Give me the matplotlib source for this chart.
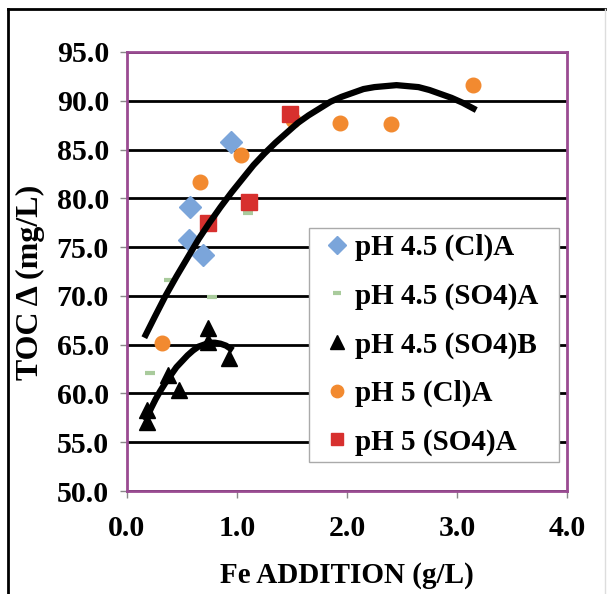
import numpy as np
import matplotlib.pyplot as plt
from matplotlib.lines import Line2D
from matplotlib.patches import Rectangle

# 读取图中的数据点
cl45_x = [0.95, 0.57, 0.56, 0.69]
cl45_y = [85.8, 79.1, 75.7, 74.2]

so45a_x = [1.10, 0.385, 0.77, 0.21]
so45a_y = [78.5, 71.6, 69.9, 62.1]

so45b_x = [0.74, 0.74, 0.93, 0.375, 0.47, 0.18, 0.18]
so45b_y = [66.7, 65.3, 63.6, 61.9, 60.4, 58.3, 57.1]

cl5_x = [0.66, 1.04, 1.51, 1.94, 2.40, 3.15, 0.315]
cl5_y = [81.7, 84.4, 88.0, 87.7, 87.6, 91.6, 65.2]

so5_x = [1.48, 1.11, 0.74]
so5_y = [88.6, 79.6, 77.5]

# 趋势线（从图上读取的点）
trend1_x = [0.17, 0.25, 0.35, 0.45, 0.55, 0.65, 0.75, 0.85, 0.95, 1.05, 1.15, 1.25, 1.35, 1.45,
            1.55, 1.65, 1.75, 1.85, 1.95, 2.05, 2.15, 2.25, 2.35, 2.45, 2.55, 2.65, 2.75,
            2.85, 2.95, 3.05, 3.15]
trend1_y = [66.0, 67.8, 70.0, 72.0, 73.9, 75.8, 77.5, 79.1, 80.6, 82.0, 83.4, 84.6, 85.7, 86.7,
            87.7, 88.5, 89.2, 89.9, 90.4, 90.8, 91.2, 91.4, 91.5, 91.6, 91.5, 91.4, 91.1,
            90.7, 90.3, 89.8, 89.2]
trend2_x = [0.18, 0.22, 0.26, 0.30, 0.35, 0.40, 0.45, 0.50, 0.55, 0.60, 0.65, 0.70, 0.75,
            0.80, 0.85, 0.90, 0.94]
trend2_y = [57.5, 58.5, 59.4, 60.2, 61.1, 61.9, 62.7, 63.3, 63.9, 64.4, 64.8, 65.0, 65.2,
            65.2, 65.1, 64.9, 64.6]

labels = ['pH 4.5 (Cl)A', 'pH 4.5 (SO4)A', 'pH 4.5 (SO4)B', 'pH 5 (Cl)A', 'pH 5 (SO4)A']

plt.rcParams['font.family'] = ['Liberation Serif', 'DejaVu Serif']
plt.rcParams['font.weight'] = 'bold'

fig = plt.figure(figsize=(6.07, 5.94), dpi=100)
ax = fig.add_axes([0.2092, 0.1734, 0.7249, 0.7391])

purple = '#9A4B92'

ax.plot(cl45_x, cl45_y, 'D', color='#7BA5DA', ms=11, mec='#7BA5DA', label=labels[0], zorder=3)
ax.plot(so45a_x, so45a_y, '_', color='#A9CB9C', ms=7, mew=3, label=labels[1], zorder=3)
ax.plot(so45b_x, so45b_y, '^', color='black', ms=12, label=labels[2], zorder=3)
ax.plot(cl5_x, cl5_y, 'o', color='#F28A30', ms=10.5, label=labels[3], zorder=3)
ax.plot(so5_x, so5_y, 's', color='#D7302E', ms=11, label=labels[4], zorder=3)

ax.plot(trend1_x, trend1_y, '-', color='black', lw=4.5, solid_joinstyle='round', zorder=4)
ax.plot(trend2_x, trend2_y, '-', color='black', lw=4.5, solid_joinstyle='round', zorder=4)

ax.set_xlim(0, 4)
ax.set_ylim(50, 95)
ax.set_xticks([0, 1, 2, 3, 4])
ax.set_yticks(np.arange(50, 96, 5))
ax.xaxis.set_major_formatter(plt.FormatStrFormatter('%.1f'))
ax.yaxis.set_major_formatter(plt.FormatStrFormatter('%.1f'))
ax.tick_params(labelsize=21.5, length=5, width=1, color='#888888')
ax.tick_params(axis='x', pad=12)
ax.tick_params(axis='y', pad=8)
for lab in ax.get_xticklabels() + ax.get_yticklabels():
    lab.set_fontweight('bold')

ax.yaxis.grid(True, color='black', lw=2)
ax.set_axisbelow(True)
for s in ax.spines.values():
    s.set_color(purple)
    s.set_linewidth(2)

ax.set_xlabel('Fe ADDITION (g/L)', fontsize=21, fontweight='bold', labelpad=15)
ax.set_ylabel('TOC Δ (mg/L)', fontsize=23, fontweight='bold', va='center')
ax.yaxis.set_label_coords(-0.22, 0.476)

# 图例框单独画，留出左右边距
box = Rectangle((0.4136, 0.066), 0.568, 0.533, transform=ax.transAxes,
                facecolor='white', edgecolor='#AAAAAA', lw=1, zorder=5)
ax.add_patch(box)
leg = ax.legend(loc='center', bbox_to_anchor=(0.698, 0.3326), fontsize=21,
                frameon=False, handlelength=0.5, handletextpad=0.35, labelspacing=0.73,
                borderpad=0.25, borderaxespad=0, markerscale=0.85)
leg.set_zorder(6)

# 外框
fig.add_artist(Line2D([8 / 607, 8 / 607], [0, 1 - 9 / 594], color='black', lw=2))
fig.add_artist(Line2D([8 / 607, 605 / 607], [1 - 9 / 594, 1 - 9 / 594], color='black', lw=2))
fig.add_artist(Line2D([605 / 607, 605 / 607], [0, 1 - 9 / 594], color='#DDDDDD', lw=1))

fig.savefig('out.png', dpi=100)
